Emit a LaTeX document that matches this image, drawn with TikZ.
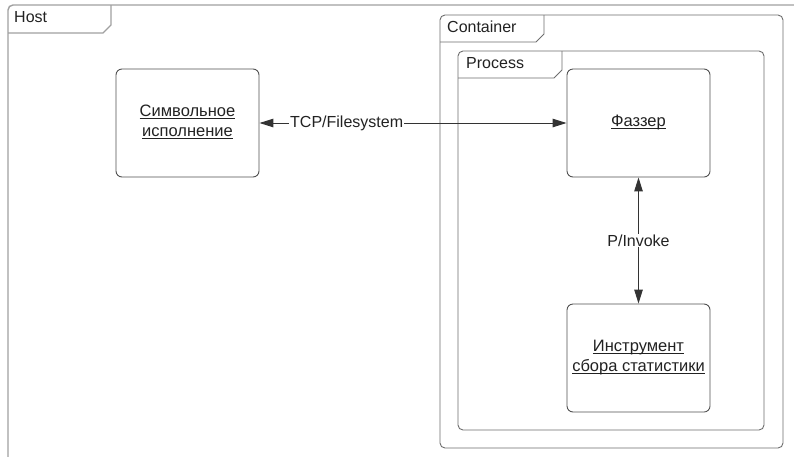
\documentclass[tikz,border=0pt]{standalone}
\usepackage{fontspec}
\setmainfont{Liberation Sans}
\usetikzlibrary{arrows.meta}
\definecolor{hostline}{HTML}{A0A0A0}
\definecolor{frameline}{HTML}{6E6E6E}
\definecolor{boxline}{HTML}{505050}
\definecolor{arrowline}{HTML}{333333}
\definecolor{txt}{HTML}{222222}
\newcommand\ulbl[1]{\underline{\smash{#1}\vphantom{x}}}
\tikzset{
  frame/.style={draw=frameline, line width=0.9pt, rounded corners=5pt},
  tab/.style={draw=frameline, line width=0.9pt},
  tablabel/.style={anchor=west, inner sep=0pt, font=\fontsize{16}{18}\selectfont, text=txt},
  compbox/.style={draw=boxline, line width=0.9pt, rounded corners=6pt, minimum width=143pt,
    minimum height=108pt, align=center, inner sep=0pt, font=\fontsize{16.5}{20}\selectfont, text=txt},
  link/.style={draw=arrowline, line width=1pt, {Triangle[length=14pt,width=8.5pt]}-{Triangle[length=14pt,width=8.5pt]}},
  linklabel/.style={fill=white, inner sep=1pt, font=\fontsize{16}{18}\selectfont, text=txt}
}
\begin{document}
\begin{tikzpicture}[x=1pt,y=-1pt]
\useasboundingbox (0,0) rectangle (794,456);
\clip (0,0) rectangle (794,456);
\fill[white] (0,0) rectangle (794,456);

% Host frame (extends past the page edges)
\draw[draw=hostline, line width=1.4pt, rounded corners=5pt] (8,480) -- (8,5) -- (820,5);
\draw[draw=hostline, line width=1.4pt] (8,33) -- (103,33) -- (111,25) -- (111,5);
\node[tablabel] (hostlbl) at (14,17.5) {Host};

% Container frame
\draw[frame] (440,15) rectangle (783,448);
\draw[tab] (440,42) -- (536,42) -- (544,34) -- (544,15);
\node[tablabel] (contlbl) at (447,27) {Container};

% Process frame
\draw[frame] (458,51) rectangle (764,430);
\draw[tab] (458,78) -- (554,78) -- (562,70) -- (562,51);
\node[tablabel] (proclbl) at (466,63) {Process};

% Components
\node[compbox] (sym) at (187.5,123) {\ulbl{Символьное}\\\ulbl{исполнение}};
\node[compbox] (fuzz) at (638.5,123) {\ulbl{Фаззер}};
\node[compbox] (stat) at (638.5,358) {\ulbl{Инструмент}\\\ulbl{сбора статистики}};

% Connectors
\draw[link] (sym.east) -- node[linklabel, pos=0.284] (tcp) {TCP/Filesystem} (fuzz.west);
\draw[link] (fuzz.south) -- node[linklabel, pos=0.5] (pinv) {P/Invoke} (stat.north);
\end{tikzpicture}
\end{document}
